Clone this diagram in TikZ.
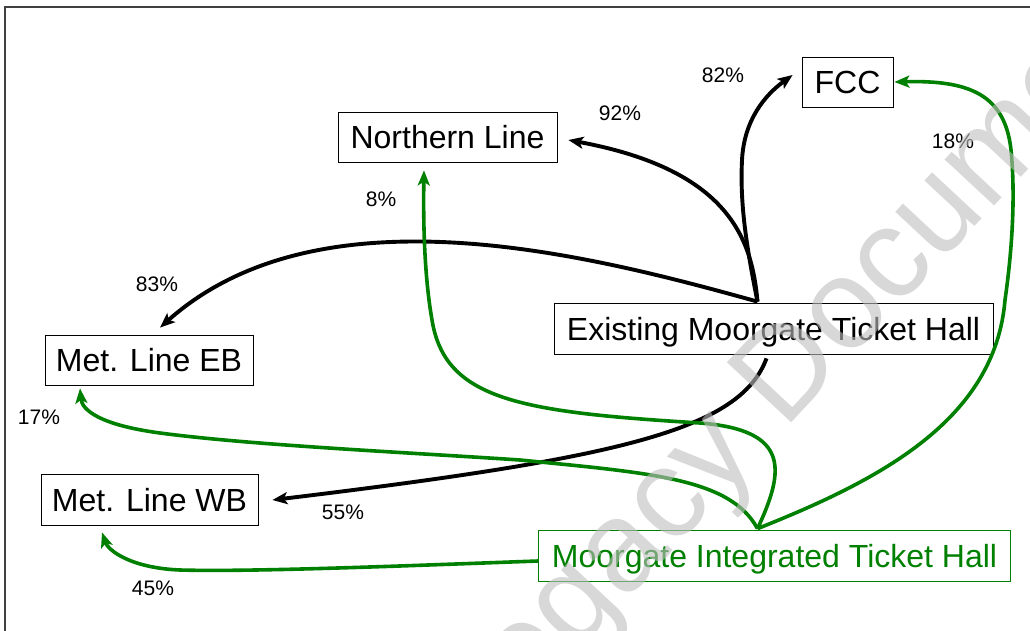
\documentclass[tikz,border=0pt]{standalone}
\usepackage{fontspec}
\setmainfont{Liberation Sans}
\usetikzlibrary{arrows.meta}
\definecolor{lgreen}{RGB}{0,128,0}
\definecolor{wmgray}{RGB}{191,191,191}
\begin{document}
\begin{tikzpicture}[x=1pt,y=-1pt,
  box/.style={draw=black, line width=0.8pt, inner sep=0pt, font=\fontsize{32}{38}\selectfont, text height=23pt, text depth=0pt, minimum height=50pt},
  pct/.style={inner sep=0pt, font=\fontsize{21}{24}\selectfont, text height=15pt, text depth=0pt},
  blk/.style={line width=3.9pt, -{Stealth[length=15pt,width=12pt,inset=3.5pt]}},
  grn/.style={blk, line width=3.6pt, draw=lgreen}]
\useasboundingbox (0,0) rectangle (1030,631);
\fill[white] (0,0) rectangle (1030,631);
\draw[line width=1.2pt, black!75] (5,631) -- (5,7) -- (1030,7);

\node[box, minimum width=219pt] (north) at (447.5,137) {Northern Line};
\node[box, minimum width=91pt] (fcc) at (847.5,82) {FCC};
\node[box, minimum width=439pt, minimum height=51pt] (exist) at (773.5,328.5) {Existing Moorgate Ticket Hall};
\node[box, minimum width=208pt] (eb) at (149,360) {Met. Line EB};
\node[box, minimum width=217pt, minimum height=51pt] (wb) at (149.5,500) {Met. Line WB};
\node[box, draw=lgreen, text=lgreen, minimum width=472pt, minimum height=51pt] (integ) at (774.5,555.5) {Moorgate Integrated Ticket Hall};

\node[pct] (p92) at (620,113) {92\%};
\node[pct] (p82) at (723,75) {82\%};
\node[pct] (p8) at (381,199) {8\%};
\node[pct] (p18) at (953,141) {18\%};
\node[pct] (p83) at (157,284) {83\%};
\node[pct] (p17) at (39,417) {17\%};
\node[pct] (p55) at (343,512) {55\%};
\node[pct] (p45) at (153,588) {45\%};

% black connectors from the existing ticket hall
\draw[blk] ([shift={(-16,-1)}]exist.north) .. controls (752,240) and (730,170) .. ([shift={(11,3)}]north.east);
\draw[blk] ([shift={(-16,-1)}]exist.north) .. controls (745,240) and (740,200) .. (742,160) .. controls (744,120) and (765,95) .. ([shift={(-9,-7)}]fcc.west);
\draw[blk] ([shift={(-16,-1)}]exist.north) .. controls (590,255) and (320,185) .. ([shift={(11,-7)}]eb.north);
\draw[blk] ([shift={(-7,4)}]exist.south) .. controls (740,430) and (620,458) .. ([shift={(14,0)}]wb.east);

% green connectors from the integrated ticket hall
\draw[grn] ([shift={(-17,-1)}]integ.north) .. controls (785,470) and (790,430) .. (700,423) .. controls (520,412) and (445,400) .. (432,320) .. controls (425,280) and (423,230) .. ([shift={(-23.5,8)}]north.south);
\draw[grn] ([shift={(-17,-1)}]integ.north) .. controls (880,480) and (995,420) .. (1005,300) .. controls (1015,230) and (1014,180) .. (1011,150) .. controls (1005,95) and (970,80) .. ([shift={(1,0)}]fcc.east);
\draw[grn] ([shift={(-17,-1)}]integ.north) .. controls (730,478) and (650,473) .. (520,460) .. controls (400,452) and (250,445) .. (160,433) .. controls (100,425) and (82,410) .. ([shift={(-69,3)}]eb.south);
\draw[grn] ([shift={(0,5.5)}]integ.west) .. controls (400,566) and (250,572) .. (180,570) .. controls (130,568) and (108,550) .. ([shift={(-47.5,6.5)}]wb.south);

% watermark
\begin{scope}
\clip (0,0) rectangle (1030,631);
\node[rotate=47, text=wmgray, opacity=0.6, inner sep=0pt, font=\fontsize{128}{140}\selectfont] (wm) at (808,360) {Legacy Document};
\end{scope}
\end{tikzpicture}
\end{document}
